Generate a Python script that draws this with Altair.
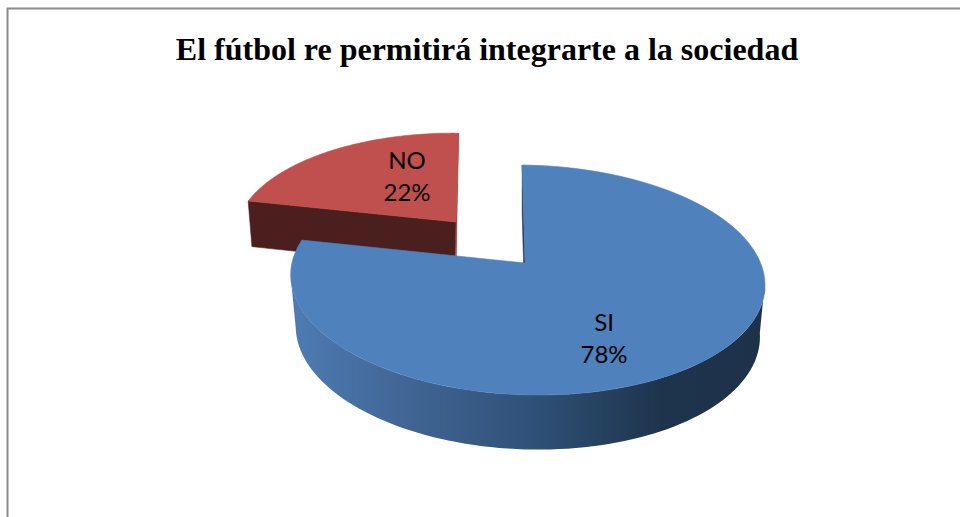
import math
import altair as alt
import pandas as pd

# Survey answers and their shares, in percent
categories = ["SI", "NO"]
shares = [78, 22]
title_text = "El fútbol re permitirá integrarte a la sociedad"

WIDTH, HEIGHT = 960, 517
x_scale = alt.Scale(domain=[0, WIDTH], range=[0, WIDTH], nice=False, zero=False)
y_scale = alt.Scale(domain=[0, HEIGHT], range=[0, HEIGHT], nice=False, zero=False)
X = alt.X("x:Q", scale=x_scale, axis=None)
Y = alt.Y("y:Q", scale=y_scale, axis=None)

TILT = 0.148  # perspective foreshortening of the disc
ROLL = 2.5  # slight sideways roll of the disc


def project(t_deg, cx, cy, rx, ry, shift=5.5):
    """Perspective projection of a rim point, angle clockwise from north."""
    t = math.radians(t_deg)
    px, pz = math.sin(t), -math.cos(t)
    d = 1 - TILT * pz
    return cx + (rx * px + shift * pz) / d, cy + (ry * pz + ROLL * px) / d


def polygon(points):
    rows = [{"x": p[0], "y": p[1], "i": n} for n, p in enumerate(points + points[:1])]
    return pd.DataFrame(rows)


def shape(points, fill, stroke=None, width=0.6):
    return (
        alt.Chart(polygon(points))
        .mark_line(fill=fill, stroke=stroke or fill, strokeWidth=width, interpolate="linear")
        .encode(x=X, y=Y, order=alt.Order("i:Q"))
    )


def arc(start, end, disc, steps=90):
    return [project(start + (end - start) * n / steps, *disc) for n in range(steps + 1)]


# Each disc is given as centre x, centre y, half width, half height, lean
si_top = (527, 263, 234.5, 112.5)
si_bottom = (527, 314, 229.5, 115.5)
no_top = (456, 222, 218, 102, -3)
no_bottom = (455, 268, 213, 104, -3)
si_apex = (525, 263)
si_apex_low = (525, 314)

si_end = 360 * shares[0] / 100
no_start = si_end

si_wall = arc(98, 262, si_top) + arc(262, 98, si_bottom)
si_cut = [project(0, *si_top), project(0, *si_bottom), si_apex_low, si_apex]
si_face = [si_apex] + arc(0, si_end, si_top)

no_wall = [no_top[:2], project(no_start, *no_top), project(no_start, *no_bottom), no_bottom[:2]]
no_cut = [no_top[:2], project(360, *no_top), (no_bottom[0] + 1, no_bottom[1])]
no_face = [no_top[:2]] + arc(no_start, 360, no_top)

wall_fill = alt.Gradient(
    gradient="linear",
    x1=0, y1=0, x2=1, y2=0,
    stops=[
        alt.GradientStop(color="#4d7cb4", offset=0),
        alt.GradientStop(color="#44699a", offset=0.2),
        alt.GradientStop(color="#2f5076", offset=0.52),
        alt.GradientStop(color="#1e344d", offset=0.78),
        alt.GradientStop(color="#1d3249", offset=1),
    ],
)

layers = [
    shape(no_wall, "#4b1f1d"),
    shape(no_cut, "#a04340"),
    shape(no_face, "#c0504d"),
    shape(si_cut, "#1f3a58"),
    shape(si_wall, wall_fill, stroke="#2f5076", width=0),
    shape(si_face, "#4f81bd"),
]

# Slice labels: category name above its share
label_x = [604, 407]
label_y = [324, 162]
label_rows = []
for name, share, lx, ly in zip(categories, shares, label_x, label_y):
    label_rows.append({"x": lx, "y": ly, "t": name})
    label_rows.append({"x": lx, "y": ly + 32, "t": f"{share}%"})
labels = (
    alt.Chart(pd.DataFrame(label_rows))
    .mark_text(font="Lato", fontSize=24, color="#000000", align="center", baseline="middle")
    .encode(x=X, y=Y, text="t:N")
)

title = (
    alt.Chart(pd.DataFrame([{"x": 487, "y": 50, "t": title_text}]))
    .mark_text(font="Liberation Serif", fontWeight="bold", fontSize=32, color="#000000",
               align="center", baseline="middle")
    .encode(x=X, y=Y, text="t:N")
)

# Chart frame: only the top and left edges fall inside the page
frame = (
    alt.Chart(pd.DataFrame({"x": [7.5, 7.5, WIDTH], "y": [HEIGHT, 8.5, 8.5], "i": [0, 1, 2]}))
    .mark_line(color="#8c8c8c", strokeWidth=2)
    .encode(x=X, y=Y, order=alt.Order("i:Q"))
)

chart = (
    alt.layer(*layers, labels, title, frame)
    .properties(width=WIDTH, height=HEIGHT, padding=0, background="#ffffff", autosize=alt.AutoSizeParams(type="none"))
    .configure_view(stroke=None)
)

chart.save("out.html", embed_options={"renderer": "svg", "actions": False})
